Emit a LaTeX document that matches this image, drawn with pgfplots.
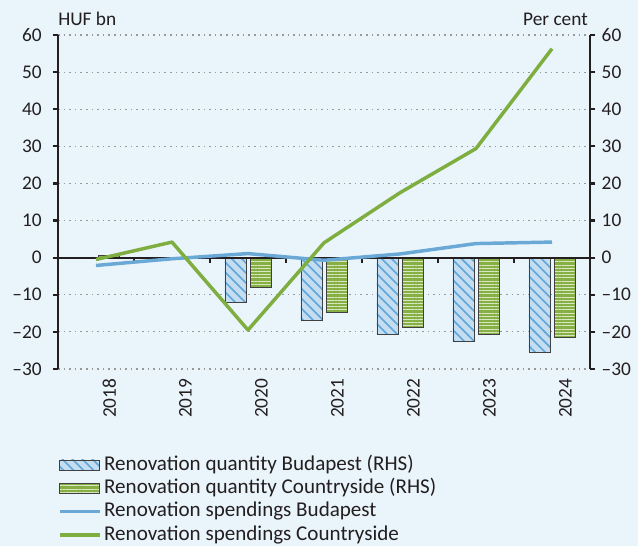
\documentclass[border=0pt]{standalone}
\usepackage{pgfplots}
\pgfplotsset{compat=1.18}
\usepackage{fontspec}
\setmainfont{Carlito}
\usetikzlibrary{patterns.meta,backgrounds,calc}

\definecolor{bgc}{HTML}{EAF4FB}
\definecolor{txt}{HTML}{231F20}
\definecolor{bline}{HTML}{6AA8D5}
\definecolor{gline}{HTML}{7DAE3F}
\definecolor{bfill}{HTML}{C5DDF1}
\definecolor{bstripe}{HTML}{5EA7DA}
\definecolor{gfill}{HTML}{86B044}
\definecolor{gstripe}{HTML}{D9E8C2}

\newcommand{\lf}{\fontsize{15.8}{18}\selectfont}

\pgfplotsset{
  barleg/.style={legend image code/.code={\draw[##1] (0pt,-3.75pt) rectangle (30pt,3.75pt);}},
  lineleg/.style={legend image code/.code={\draw[##1] (0pt,0pt) -- (30pt,0pt);}},
  common/.style={
    width=399pt, height=250.5pt, scale only axis,
    xmin=-0.5, xmax=6.5, ymin=-30, ymax=60,
    ytick={-30,-20,...,60},
    yticklabels={–30,–20,–10,0,10,20,30,40,50,60},
    tick align=outside,
    major tick length=3.75pt,
    y axis line style={line width=1.6pt, txt},
    ytick style={line width=1.6pt, txt},
    ticklabel style={text=txt},
  },
}

\begin{document}
\begin{tikzpicture}[font=\fontsize{14.5}{17.4}\selectfont, text=txt]
\begin{axis}[common, name=ax,
  axis y line*=left,
  axis x line*=bottom,
  x axis line style={draw=none},
  xtick={0,...,6},
  xticklabels={2018,2019,2020,2021,2022,2023,2024},
  xtick style={draw=none},
  xticklabel style={rotate=90, anchor=east, yshift=-10pt},
  yticklabel style={anchor=east, xshift=-5pt},
  ymajorgrids,
  grid style={gray!80, line width=0.8pt, dash pattern=on 1.2pt off 3pt},
  legend style={at={(0,-0.2525)}, anchor=north west, draw=none, fill=none,
    inner sep=0pt, outer sep=0pt, row sep=0pt,
    nodes={text height=11pt, text depth=3pt, inner ysep=1.75pt}},
  legend cell align=left,
  bar width=15.75pt,
]
\addplot[ybar, bar shift=-9.4pt, draw=black!75, line width=0.6pt,
  preaction={fill=bfill},
  pattern={Lines[angle=-45,distance=5.3pt,line width=1.2pt]}, pattern color=bstripe,
  barleg]
  coordinates {(2,-12) (3,-17) (4,-20.7) (5,-22.5) (6,-25.5)};
\addlegendentry{\lf Renovation quantity Budapest (RHS)}
\addplot[ybar, bar shift=9.4pt, draw=black!75, line width=0.6pt,
  preaction={fill=gfill},
  pattern={Lines[angle=0,distance=2.4pt,line width=0.8pt]}, pattern color=gstripe,
  barleg]
  coordinates {(0,0.6) (2,-8.1) (3,-14.7) (4,-18.9) (5,-20.7) (6,-21.5)};
\addlegendentry{\lf Renovation quantity Countryside (RHS)}
\draw[line width=1.5pt, txt] (axis cs:-0.5,0) -- (axis cs:6.5,0);
\draw[line width=1.5pt, txt] (axis cs:0.5,0) -- ([yshift=-4pt]axis cs:0.5,0);
\draw[line width=1.5pt, txt] (axis cs:1.5,0) -- ([yshift=-4pt]axis cs:1.5,0);
\draw[line width=1.5pt, txt] (axis cs:2.5,0) -- ([yshift=-4pt]axis cs:2.5,0);
\draw[line width=1.5pt, txt] (axis cs:3.5,0) -- ([yshift=-4pt]axis cs:3.5,0);
\draw[line width=1.5pt, txt] (axis cs:4.5,0) -- ([yshift=-4pt]axis cs:4.5,0);
\draw[line width=1.5pt, txt] (axis cs:5.5,0) -- ([yshift=-4pt]axis cs:5.5,0);
\addplot[bline, line width=2.6pt, line join=round, lineleg]
  coordinates {(0,-2.1) (1,-0.3) (2,1.1) (3,-0.7) (4,1.0) (5,3.8) (6,4.2)};
\addlegendentry{\lf Renovation spendings Budapest}
\addplot[gline, line width=2.6pt, line join=round, lineleg]
  coordinates {(0,-0.5) (1,4.2) (2,-19.5) (3,4.0) (4,17.5) (5,29.4) (6,56.3)};
\addlegendentry{\lf Renovation spendings Countryside}
\end{axis}
\begin{axis}[common,
  axis y line*=right,
  axis x line=none,
  yticklabel style={anchor=west, xshift=1.5pt},
]
\end{axis}
\node[anchor=base west, inner sep=0pt] at ($(ax.north west)+(0pt,7.5pt)$) {HUF bn};
\node[anchor=base east, inner sep=0pt] at ($(ax.north east)+(-1.5pt,7.5pt)$) {Per cent};
\begin{pgfonlayer}{background}
\fill[bgc] ($(ax.south west)+(-43.5pt,-132.75pt)$) rectangle ($(ax.north east)+(36pt,26.25pt)$);
\end{pgfonlayer}
\end{tikzpicture}
\end{document}
